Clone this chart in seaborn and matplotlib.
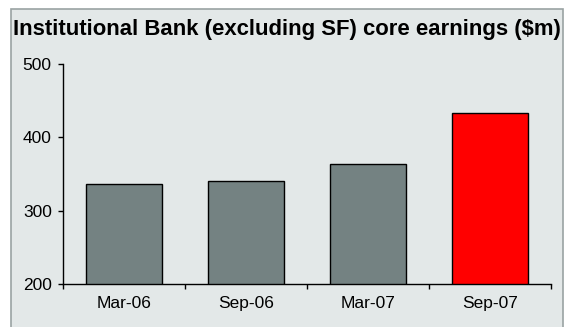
import matplotlib
matplotlib.use("Agg")
import matplotlib.pyplot as plt
import seaborn as sns
import pandas as pd
from matplotlib.patches import Rectangle
from matplotlib.ticker import FixedLocator

categories = ["Mar-06", "Sep-06", "Mar-07", "Sep-07"]
values = [337, 341, 363, 433]
bar_colors = ["#748282", "#748282", "#748282", "#ff0000"]
title = "Institutional Bank (excluding SF) core earnings ($m)"
yticks = [200, 300, 400, 500]

sns.set_style("white")
plt.rcParams["font.family"] = ["Liberation Sans", "DejaVu Sans"]

W, H = 568, 327
fig = plt.figure(figsize=(W / 100, H / 100), dpi=100)
fig.patch.set_facecolor("white")
fig.patches.append(Rectangle((10.5 / W, -0.05), (563 - 10.5) / W, (H - 9) / H + 0.05,
                             transform=fig.transFigure, facecolor="#e3e8e8",
                             edgecolor="#9aa3a3", linewidth=1.2, zorder=-5))

ax = fig.add_axes([63 / W, (H - 284) / H, (551 - 63) / W, (284 - 64) / H])
ax.set_facecolor("none")
ax.set_zorder(2)

df = pd.DataFrame({"period": categories, "value": values})
sns.barplot(data=df, x="period", y="value", hue="period", palette=bar_colors,
            width=0.62, edgecolor="black", linewidth=1.0, legend=False, ax=ax,
            saturation=1)

ax.set_ylim(200, 500)
ax.set_xlim(-0.5, len(categories) - 0.5)
ax.set_yticks(yticks)
ax.set_xlabel("")
ax.set_ylabel("")
for s in ["top", "right"]:
    ax.spines[s].set_visible(False)
for s in ["left", "bottom"]:
    ax.spines[s].set_color("black")
    ax.spines[s].set_linewidth(1.0)

ax.tick_params(axis="y", which="major", direction="out", length=3.6, width=1,
               color="black", labelsize=12.5, pad=4.5, left=True, labelcolor="black")
ax.tick_params(axis="x", which="major", length=0, labelsize=12.5, pad=8.5,
               labelcolor="black")
ax.xaxis.set_minor_locator(FixedLocator([i - 0.5 for i in range(len(categories) + 1)]))
ax.tick_params(axis="x", which="minor", direction="out", length=3.6, width=1,
               color="black", bottom=True)

fig.text(13 / W, 1 - 30 / H, title, fontsize=15.9, fontweight="bold",
         va="center", ha="left", color="black")

fig.savefig("out.png", dpi=100)
